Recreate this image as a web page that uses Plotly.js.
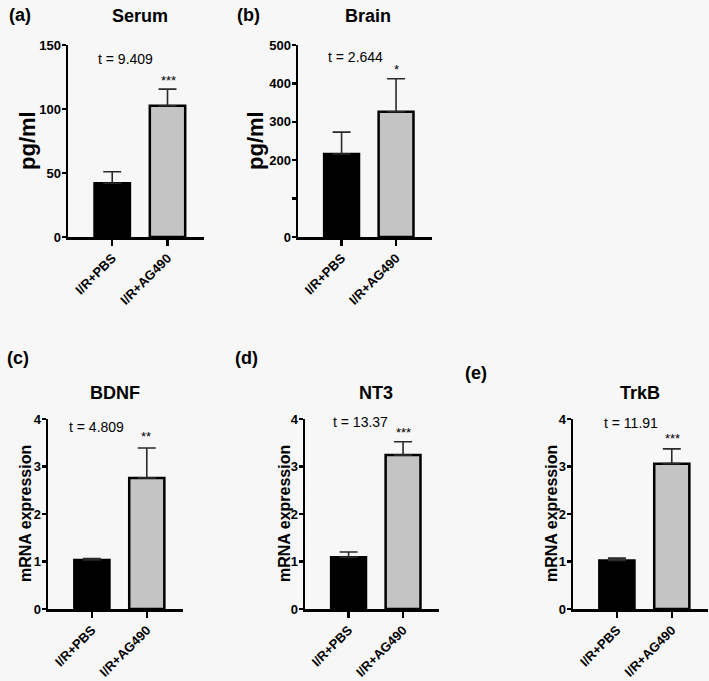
<!DOCTYPE html>
<html><head><meta charset="utf-8">
<script src="https://cdn.plot.ly/plotly-3.0.1.min.js"></script>
<style>html,body{margin:0;padding:0;background:#f7f7f7}#chart{width:709px;height:681px}</style>
</head><body><div id="chart"></div>
<script>
const groups = ['I/R+PBS', 'I/R+AG490'];
const serumMean = [42, 102.5];
const serumSD = [9, 13];
const brainMean = [216, 326];
const brainSD = [57, 86];
const bdnfMean = [1.03, 2.76];
const bdnfSD = [0.03, 0.63];
const nt3Mean = [1.09, 3.24];
const nt3SD = [0.11, 0.28];
const trkbMean = [1.02, 3.06];
const trkbSD = [0.05, 0.31];
const panelTitles = ['Serum', 'Brain', 'BDNF', 'NT3', 'TrkB'];
const panelLabels = ['(a)', '(b)', '(c)', '(d)', '(e)'];
const tLabels = ['t = 9.409', 't = 2.644', 't = 4.809', 't = 13.37', 't = 11.91'];
const stars = ['***', '*', '**', '***', '***'];
const yTitles = ['pg/ml', 'pg/ml', 'mRNA expression', 'mRNA expression', 'mRNA expression'];
const yTickVals = [[0, 50, 100, 150], [0, 100, 200, 300, 400, 500], [0, 1, 2, 3, 4], [0, 1, 2, 3, 4], [0, 1, 2, 3, 4]];
const yTickText = [['0', '50', '100', '150'], ['0', '', '200', '300', '400', '500'], ['0', '1', '2', '3', '4'], ['0', '1', '2', '3', '4'], ['0', '1', '2', '3', '4']];
const yMax = [150, 500, 4, 4, 4];
const means = [serumMean, brainMean, bdnfMean, nt3Mean, trkbMean];
const sds = [serumSD, brainSD, bdnfSD, nt3SD, trkbSD];

const W = 709, H = 681;
const px = v => v / W;
const py = v => 1 - v / H;
const bold = a => a.map(t => t === '' ? '' : '<b>' + t + '</b>');
// plot boxes in pixels [left, right, top, bottom]
const boxes = [[68, 204, 45, 237], [298, 432, 45, 237], [48, 183, 419, 609], [305, 439, 419, 609], [573, 708, 419, 609]];
const titlePos = [[140, 16], [368, 16], [115, 393], [376, 393], [640, 393]];
const labelPos = [[20, 15], [248, 15], [18, 358], [246, 358], [476, 373]];
const tPos = [[125, 59], [355, 57], [96, 427], [360, 422], [631, 423]];
const starPos = [[168, 80], [396, 69], [146, 436], [403, 432], [672, 438]];
const yTitlePos = [[27, 141], [255, 141], [25, 514], [284, 514], [551, 514]];
const yTitleSize = [22, 22, 16, 16, 16];

const data = [];
const layout = {
  width: W, height: H,
  margin: {l: 0, r: 0, t: 0, b: 0},
  paper_bgcolor: '#f7f7f7', plot_bgcolor: 'rgba(0,0,0,0)',
  showlegend: false,
  font: {family: 'Arial, "Liberation Sans", sans-serif', color: '#000'},
  annotations: [], shapes: []
};

for (let i = 0; i < 5; i++) {
  const s = i === 0 ? '' : String(i + 1);
  const b = boxes[i];
  data.push({
    type: 'bar', x: groups, y: means[i], xaxis: 'x' + s, yaxis: 'y' + s,
    width: 0.64,
    marker: {color: ['#000000', '#c4c4c4'], line: {color: '#000000', width: 2.5}},
    error_y: {type: 'data', symmetric: false, array: sds[i], arrayminus: [0, 0], color: '#2a2a2a', thickness: 1.6, width: 9},
    hoverinfo: 'skip'
  });
  layout['xaxis' + s] = {
    domain: [px(b[0]), px(b[1])], anchor: 'y' + s,
    range: [-0.8, 1.66], type: 'category',
    tickvals: groups, ticktext: bold(groups),
    showline: true, linecolor: '#000', linewidth: 2.5,
    ticks: 'outside', ticklen: 6, tickwidth: 2.5, tickcolor: '#000',
    tickangle: -45, tickfont: {size: 13, color: '#000'},
    showgrid: false, zeroline: false, fixedrange: true
  };
  layout['yaxis' + s] = {
    domain: [py(b[3]), py(b[2])], anchor: 'x' + s,
    range: [0, yMax[i]],
    tickvals: yTickVals[i], ticktext: bold(yTickText[i]),
    showline: true, linecolor: '#000', linewidth: 2.5,
    ticks: 'outside', ticklen: 4, tickwidth: 2.5, tickcolor: '#000',
    ticklabelstandoff: -2,
    tickfont: {size: 13, color: '#000'},
    showgrid: false, zeroline: false, fixedrange: true
  };
  layout.annotations.push(
    {text: '<b>' + panelTitles[i] + '</b>', x: px(titlePos[i][0]), y: py(titlePos[i][1]), xref: 'paper', yref: 'paper', showarrow: false, xanchor: 'center', yanchor: 'middle', font: {size: 18}},
    {text: '<b>' + panelLabels[i] + '</b>', x: px(labelPos[i][0]), y: py(labelPos[i][1]), xref: 'paper', yref: 'paper', showarrow: false, xanchor: 'center', yanchor: 'middle', font: {size: 18}},
    {text: tLabels[i], x: px(tPos[i][0]), y: py(tPos[i][1]), xref: 'paper', yref: 'paper', showarrow: false, xanchor: 'center', yanchor: 'middle', font: {size: 14}},
    {text: stars[i], x: px(starPos[i][0]), y: py(starPos[i][1]), xref: 'paper', yref: 'paper', showarrow: false, xanchor: 'center', yanchor: 'middle', font: {size: 13}},
    {text: '<b>' + yTitles[i] + '</b>', x: px(yTitlePos[i][0]), y: py(yTitlePos[i][1]), xref: 'paper', yref: 'paper', showarrow: false, xanchor: 'center', yanchor: 'middle', textangle: -90, font: {size: yTitleSize[i]}}
  );
}

Plotly.newPlot('chart', data, layout, {displayModeBar: false, staticPlot: true});
</script></body></html>
